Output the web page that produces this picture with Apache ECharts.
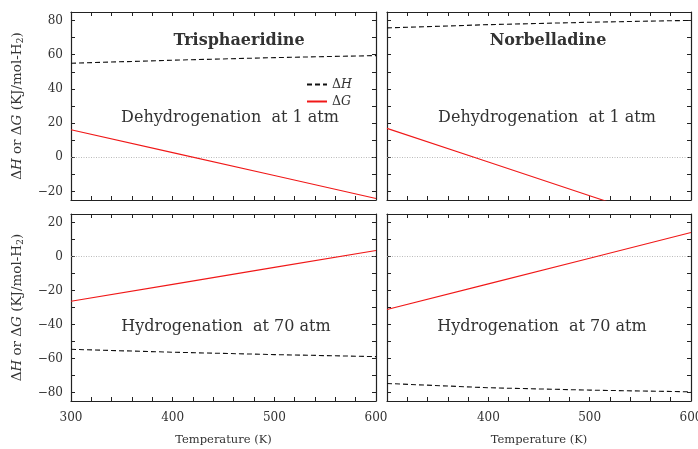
<!DOCTYPE html>
<html>
<head>
<meta charset="utf-8">
<script src="https://cdn.jsdelivr.net/npm/echarts@6/dist/echarts.min.js"></script>
<style>html,body{margin:0;padding:0;background:#fff}#c{width:698px;height:449px}</style>
</head>
<body>
<div id="c"></div>
<script>
// ---- data ----
const temps = [300, 400, 500, 600];
const trisDehydH = [55.0, 56.8, 58.3, 59.5];
const trisDehydG = [16.1, 2.7, -10.7, -24.1];
const norbDehydH = [75.7, 77.6, 79.0, 80.1];
const norbDehydG = [16.9, -2.8, -22.5, -42.2];
const trisHydH = [-54.6, -56.3, -57.7, -58.9];
const trisHydG = [-26.3, -16.4, -6.4, 3.5];
const norbHydH = [-74.7, -77.2, -78.6, -79.6];
const norbHydG = [-31.2, -16.1, -1.0, 14.1];

const xTickLabels = [300, 400, 500, 600];
const xMinorTicks = [300,320,340,360,380,400,420,440,460,480,500,520,540,560,580,600];
const topYLabels = [-20, 0, 20, 40, 60, 80];
const topYTicks = [-20,-10,0,10,20,30,40,50,60,70,80];
const botYLabels = [-80, -60, -40, -20, 0, 20];
const botYTicks = [-80,-70,-60,-50,-40,-30,-20,-10,0,10,20];

const FONT = 'DejaVu Serif';
const TXT = '#333';
const FRAME = '#222';

const grids = [
  {left: 71, top: 12, width: 305, height: 188, outerBoundsMode: 'none', containLabel: false},
  {left: 387, top: 12, width: 304, height: 188, outerBoundsMode: 'none', containLabel: false},
  {left: 71, top: 214, width: 305, height: 187, outerBoundsMode: 'none', containLabel: false},
  {left: 387, top: 214, width: 304, height: 187, outerBoundsMode: 'none', containLabel: false}
];
const fmt = v => v < 0 ? '\u2212' + Math.abs(v) : String(v);

const xAxes = [], yAxes = [];
for (let i = 0; i < 4; i++) {
  const isBottom = i >= 2, isRight = i % 2 === 1;
  xAxes.push({
    type: 'value', gridIndex: i, min: 300, max: 600, position: 'bottom',
    axisLine: {show: true, onZero: false, lineStyle: {color: FRAME, width: 1.2}},
    axisTick: {show: true, inside: true, length: 4, customValues: xMinorTicks, lineStyle: {color: FRAME}},
    axisLabel: {show: isBottom, customValues: isRight ? xTickLabels.slice(1) : xTickLabels,
      fontFamily: FONT, fontSize: 12, color: TXT, margin: 11},
    splitLine: {show: false},
    name: isBottom ? 'Temperature (K)' : '', nameLocation: 'middle', nameGap: 33,
    nameTextStyle: {fontFamily: FONT, fontSize: 11.5, color: TXT}
  });
  yAxes.push({
    type: 'value', gridIndex: i, min: isBottom ? -85 : -25, max: isBottom ? 25 : 85, position: 'left',
    axisLine: {show: true, onZero: false, lineStyle: {color: FRAME, width: 1.2}},
    axisTick: {show: true, inside: true, length: 4, customValues: isBottom ? botYTicks : topYTicks, lineStyle: {color: FRAME}},
    axisLabel: {show: !isRight, customValues: isBottom ? botYLabels : topYLabels, formatter: fmt,
      fontFamily: FONT, fontSize: 12, color: TXT, margin: 8},
    splitLine: {show: false},
    name: isRight ? '' : '{d|\u0394}{i|H}{d| or \u0394}{i|G}{d| (KJ/mol-H}{s|2}{d|)}',
    nameLocation: 'middle', nameRotate: 90, nameGap: 45,
    nameTextStyle: {fontFamily: FONT, fontSize: 13.5, color: TXT,
      rich: {d: {fontFamily: FONT, fontSize: 13.5, color: TXT},
             i: {fontFamily: FONT, fontSize: 13.5, fontStyle: 'italic', color: TXT},
             s: {fontFamily: FONT, fontSize: 9.5, color: TXT, verticalAlign: 'bottom', padding: [7, 0, 0, 0]}}}
  });
}
for (let i = 0; i < 4; i++) {
  const isBottom = i >= 2;
  xAxes.push({type: 'value', gridIndex: i, min: 300, max: 600, position: 'top',
    axisLine: {show: true, onZero: false, lineStyle: {color: FRAME, width: 1.2}},
    axisTick: {show: true, inside: true, length: 4, customValues: xMinorTicks, lineStyle: {color: FRAME}},
    axisLabel: {show: false}, splitLine: {show: false}});
  yAxes.push({type: 'value', gridIndex: i, min: isBottom ? -85 : -25, max: isBottom ? 25 : 85, position: 'right',
    axisLine: {show: true, onZero: false, lineStyle: {color: FRAME, width: 1.2}},
    axisTick: {show: true, inside: true, length: 4, customValues: isBottom ? botYTicks : topYTicks, lineStyle: {color: FRAME}},
    axisLabel: {show: false}, splitLine: {show: false}});
}

const panels = [[trisDehydH, trisDehydG], [norbDehydH, norbDehydG], [trisHydH, trisHydG], [norbHydH, norbHydG]];
const series = [];
panels.forEach((p, i) => {
  series.push({
    name: '\u0394H', type: 'line', xAxisIndex: i, yAxisIndex: i, symbol: 'none', silent: true,
    data: temps.map((t, k) => [t, p[0][k]]),
    lineStyle: {color: '#111', width: 1.1, type: [5, 3]}, itemStyle: {color: '#111'}, z: 3
  });
  series.push({
    name: '\u0394G', type: 'line', xAxisIndex: i, yAxisIndex: i, symbol: 'none', silent: true,
    data: temps.map((t, k) => [t, p[1][k]]),
    lineStyle: {color: '#f01818', width: 1.1}, itemStyle: {color: '#f01818'}, z: 3,
    markLine: {silent: true, symbol: ['none', 'none'], label: {show: false}, animation: false,
      lineStyle: {color: '#aaa', width: 0.8, type: [1, 1.5]}, data: [{yAxis: 0}], z: 1}
  });
});

const txt = (x, y, s, size, bold) => ({type: 'text', x: x, y: y,
  style: {text: s, fontFamily: FONT, fontSize: size, fontWeight: bold ? 'bold' : 'normal', fill: TXT,
    textAlign: 'center', textVerticalAlign: 'middle'}});

const chart = echarts.init(document.getElementById('c'), null, {renderer: 'canvas'});
chart.setOption({
  animation: false,
  grid: grids,
  xAxis: xAxes,
  yAxis: yAxes,
  series: series,
  legend: {
    data: ['\u0394H', '\u0394G'], orient: 'vertical', left: 301, top: 73,
    itemWidth: 20, itemHeight: 12, itemGap: 4,
    itemStyle: {opacity: 0},
    formatter: n => n === '\u0394H' ? '{d|\u0394}{i|H}' : '{d|\u0394}{i|G}',
    textStyle: {fontFamily: FONT, fontSize: 12.5, color: TXT,
      rich: {d: {fontFamily: FONT, fontSize: 12.5, color: TXT}, i: {fontFamily: FONT, fontSize: 12.5, fontStyle: 'italic', color: TXT}}}
  },
  graphic: [
    txt(239, 41, 'Trisphaeridine', 16, true),
    txt(548, 41, 'Norbelladine', 16, true),
    txt(230, 118, 'Dehydrogenation  at 1 atm', 16, false),
    txt(547, 118, 'Dehydrogenation  at 1 atm', 16, false),
    txt(226, 327, 'Hydrogenation  at 70 atm', 16, false),
    txt(542, 327, 'Hydrogenation  at 70 atm', 16, false)
  ]
});
</script>
</body>
</html>
